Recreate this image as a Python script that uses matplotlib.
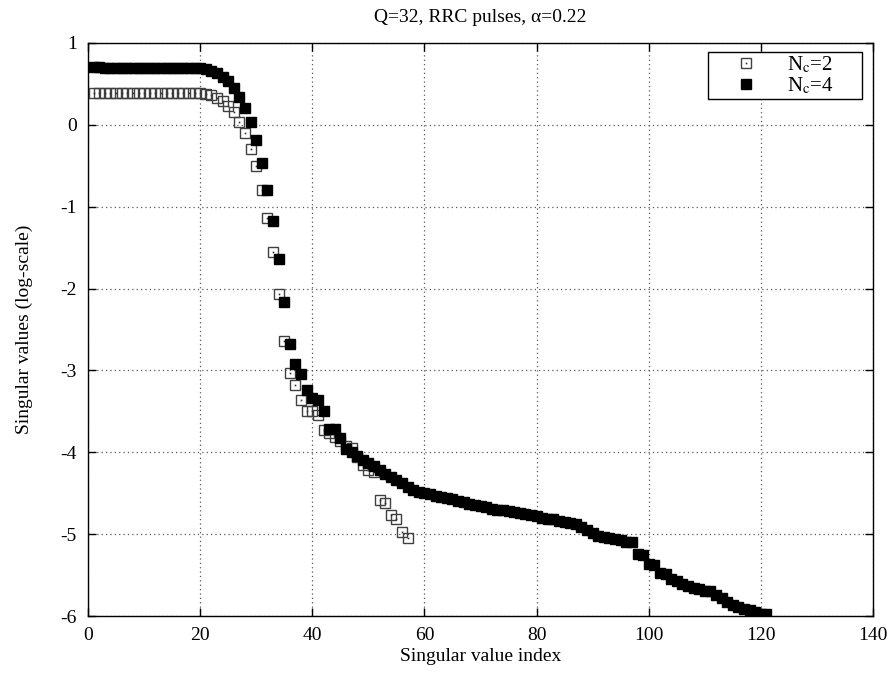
import matplotlib
matplotlib.use('Agg')
import matplotlib.pyplot as plt
from matplotlib import rc
from matplotlib.lines import Line2D

rc('font', **{'family': 'serif', 'serif': ['Liberation Serif', 'DejaVu Serif']})
rc('mathtext', fontset='stix')
rc('axes', unicode_minus=False)

# singular values, log-scale
sv_nc2 = [0.39] * 20 + [
    0.38, 0.36, 0.33, 0.29, 0.235, 0.155, 0.04, -0.10, -0.29, -0.50,
    -0.80, -1.14, -1.55, -2.07, -2.64, -3.03, -3.18, -3.36, -3.49, -3.49,
    -3.55, -3.73, -3.77, -3.81, -3.86, -3.92, -3.95, -4.06, -4.16, -4.22,
    -4.24, -4.58, -4.62, -4.77, -4.81, -4.97, -5.05]

sv_nc4 = [0.71, 0.705] + [0.70] * 18 + [
    0.685, 0.66, 0.633, 0.59, 0.54, 0.45, 0.34, 0.20, 0.04, -0.18,
    -0.46, -0.79, -1.175, -1.64, -2.16, -2.68, -2.92, -3.04, -3.24, -3.34,
    -3.36, -3.50, -3.71, -3.71, -3.83, -3.96, -4.00, -4.05, -4.09, -4.13,
    -4.17, -4.22, -4.26, -4.30, -4.34, -4.38, -4.43, -4.46, -4.48, -4.50,
    -4.51, -4.54, -4.55, -4.56, -4.57, -4.59, -4.61, -4.63, -4.64, -4.66,
    -4.67, -4.69, -4.70, -4.71, -4.72, -4.73, -4.74, -4.75, -4.76, -4.78,
    -4.80, -4.81, -4.82, -4.84, -4.85, -4.86, -4.88, -4.91, -4.95, -4.99,
    -5.02, -5.04, -5.05, -5.06, -5.07, -5.09, -5.10, -5.24, -5.25, -5.37,
    -5.38, -5.47, -5.49, -5.55, -5.57, -5.61, -5.63, -5.66, -5.67, -5.69,
    -5.70, -5.74, -5.78, -5.83, -5.86, -5.89, -5.91, -5.93, -5.95, -5.97,
    -5.98]

idx_nc2 = list(range(1, len(sv_nc2) + 1))
idx_nc4 = list(range(1, len(sv_nc4) + 1))

xticks = [0, 20, 40, 60, 80, 100, 120, 140]
yticks = [1, 0, -1, -2, -3, -4, -5, -6]

fig = plt.figure(figsize=(8.92, 6.75), dpi=100)
ax = fig.add_axes([0.0987, 0.0874, 0.88, 0.8489])

# hollow boxes with a dot in the middle
ax.plot(idx_nc2, sv_nc2, linestyle='none', marker='s', markersize=6.5,
        markerfacecolor='none', markeredgecolor='0.25', markeredgewidth=1.0,
        zorder=3)
ax.plot(idx_nc2, sv_nc2, linestyle='none', marker='s', markersize=1.2,
        markerfacecolor='0.2', markeredgewidth=0, zorder=3)
ax.plot(idx_nc4, sv_nc4, linestyle='none', marker='s', markersize=6.5,
        color='black', zorder=4)

# legend proxies
h2 = (Line2D([], [], linestyle='none', marker='s', markersize=6.5,
             markerfacecolor='none', markeredgecolor='0.25', markeredgewidth=1.0),
      Line2D([], [], linestyle='none', marker='s', markersize=1.2,
             markerfacecolor='0.2', markeredgewidth=0))
h4 = Line2D([], [], linestyle='none', marker='s', markersize=6.5, color='black')
leg = ax.legend([h2, h4], ['N$_{\\mathrm{c}}$=2', 'N$_{\\mathrm{c}}$=4'],
                loc='upper right', bbox_to_anchor=(0.790, 0.70, 0.196, 0.285),
                mode='expand', fancybox=False, framealpha=1, edgecolor='black',
                fontsize=15, handletextpad=0.35, borderpad=0.15,
                labelspacing=0.0, borderaxespad=0, handlelength=3.3)
leg.get_frame().set_linewidth(1.0)

ax.set_xlim(0, 140)
ax.set_ylim(-6, 1)
ax.set_xticks(xticks)
ax.set_yticks(yticks)
ax.tick_params(direction='in', top=True, right=True, length=6, width=1,
               labelsize=14, pad=8)
ax.grid(True, color='0.35', linestyle=(0, (1, 2.5)), linewidth=0.9)
for s in ax.spines.values():
    s.set_linewidth(1.0)

ax.set_title('Q=32, RRC pulses, α=0.22', fontsize=14, pad=15)
ax.set_xlabel('Singular value index', fontsize=14, labelpad=3)
ax.set_ylabel('Singular values (log-scale)', fontsize=14, labelpad=20)

plt.savefig('out.png', dpi=100)
